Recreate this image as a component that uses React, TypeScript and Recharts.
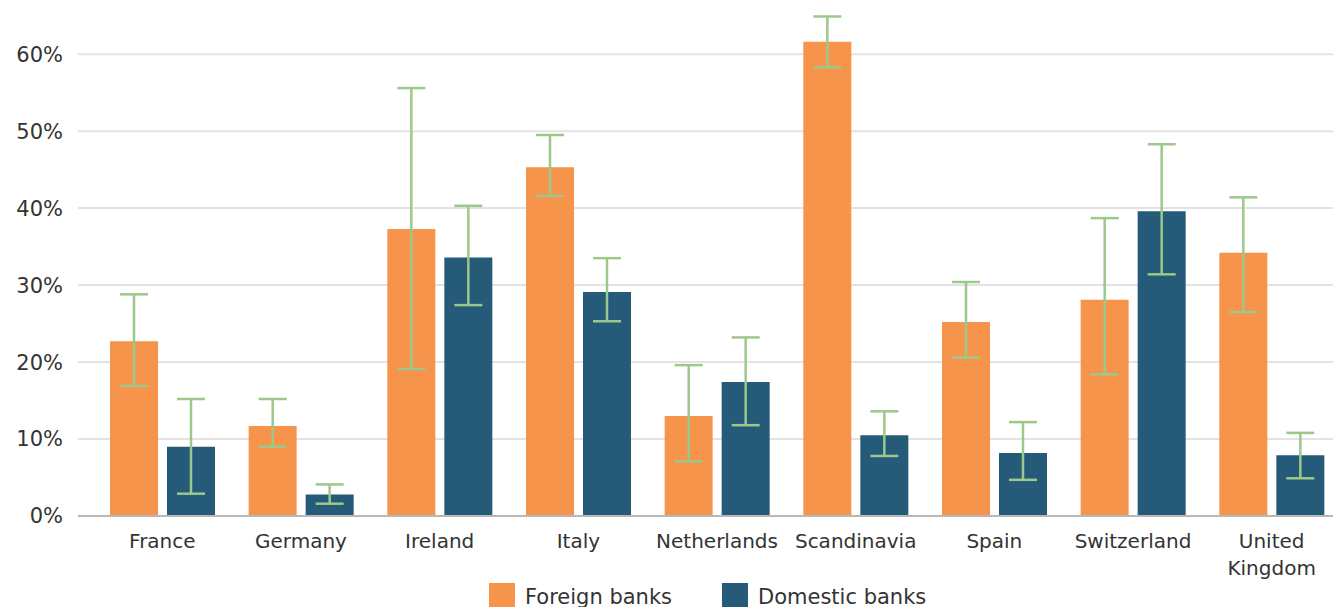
import React from 'react';
import {
  ComposedChart,
  Bar,
  XAxis,
  YAxis,
  CartesianGrid,
  Legend,
  ErrorBar,
} from 'recharts';

const countries = [
  'France',
  'Germany',
  'Ireland',
  'Italy',
  'Netherlands',
  'Scandinavia',
  'Spain',
  'Switzerland',
  'United Kingdom',
];

// values in %
const foreign = [22.7, 11.7, 37.3, 45.3, 13.0, 61.6, 25.2, 28.1, 34.2];
const foreignLow = [16.9, 9.0, 19.1, 41.6, 7.1, 58.3, 20.6, 18.4, 26.5];
const foreignHigh = [28.8, 15.2, 55.6, 49.5, 19.6, 64.9, 30.4, 38.7, 41.4];

const domestic = [9.0, 2.8, 33.6, 29.1, 17.4, 10.5, 8.2, 39.6, 7.9];
const domesticLow = [2.9, 1.6, 27.4, 25.3, 11.8, 7.8, 4.7, 31.4, 4.9];
const domesticHigh = [15.2, 4.1, 40.3, 33.5, 23.2, 13.6, 12.2, 48.3, 10.8];

const yTicks = [0, 10, 20, 30, 40, 50, 60];
const Y_MAX = 66;

const ORANGE = '#F5944A';
const BLUE = '#255A78';
const GREEN = '#9CC88C';
const FONT = '"DejaVu Sans", sans-serif';

const data = countries.map((name, i) => ({
  name,
  foreign: foreign[i],
  domestic: domestic[i],
  foreignErr: [foreign[i] - foreignLow[i], foreignHigh[i] - foreign[i]],
  domesticErr: [domestic[i] - domesticLow[i], domesticHigh[i] - domestic[i]],
}));

// grid only at the labelled ticks (no line along the top edge)
const gridRows = ({ offset }: any) =>
  yTicks.slice(1).map((t) => offset.top + offset.height * (1 - t / Y_MAX));

const CountryTick = (props: any) => {
  const { x, y, payload } = props;
  const lines = String(payload.value).split(' ');
  return (
    <g transform={`translate(${x},${y})`}>
      {lines.map((line: string, i: number) => (
        <text
          key={i}
          x={0}
          y={24 + i * 27}
          textAnchor="middle"
          fill="#333"
          fontSize={20}
          fontFamily={FONT}
        >
          {line}
        </text>
      ))}
    </g>
  );
};

const LegendContent = () => (
  <div
    style={{
      height: 40,
      position: 'relative',
      fontFamily: FONT,
      fontSize: 21,
      color: '#333',
    }}
  >
    {[
      { label: 'Foreign banks', color: ORANGE, left: 481 },
      { label: 'Domestic banks', color: BLUE, left: 714 },
    ].map((item) => (
      <div
        key={item.label}
        style={{ position: 'absolute', left: item.left, top: 7, display: 'flex', alignItems: 'flex-start' }}
      >
        <span style={{ display: 'inline-block', width: 26, height: 26, background: item.color }} />
        <span style={{ marginLeft: 10, lineHeight: '28px', whiteSpace: 'nowrap' }}>{item.label}</span>
      </div>
    ))}
  </div>
);

export default function App() {
  return (
    <div style={{ width: 1333, height: 608 }}>
      <ComposedChart
        width={1333}
        height={608}
        data={data}
        margin={{ top: 0, right: 0, bottom: 0, left: 0 }}
        barSize={48}
        barGap={9}
      >
        <CartesianGrid
          vertical={false}
          stroke="#e3e3e3"
          strokeWidth={2}
          horizontalCoordinatesGenerator={gridRows}
        />
        <XAxis
          dataKey="name"
          height={60}
          padding={{ left: 15, right: 0 }}
          axisLine={{ stroke: '#b8b8b8', strokeWidth: 2 }}
          tickLine={false}
          tick={<CountryTick />}
          interval={0}
        />
        <YAxis
          width={70}
          domain={[0, Y_MAX]}
          ticks={yTicks}
          axisLine={false}
          tickLine={false}
          tickFormatter={(v: number) => `${v}%`}
          tick={{ fill: '#333', fontSize: 21, fontFamily: FONT }}
          tickMargin={9}
        />
        <Legend verticalAlign="bottom" height={40} content={<LegendContent />} />
        <Bar dataKey="foreign" name="Foreign banks" fill={ORANGE} isAnimationActive={false}>
          <ErrorBar dataKey="foreignErr" width={14} stroke={GREEN} strokeWidth={2.5} direction="y" />
        </Bar>
        <Bar dataKey="domestic" name="Domestic banks" fill={BLUE} isAnimationActive={false}>
          <ErrorBar dataKey="domesticErr" width={14} stroke={GREEN} strokeWidth={2.5} direction="y" />
        </Bar>
      </ComposedChart>
    </div>
  );
}
